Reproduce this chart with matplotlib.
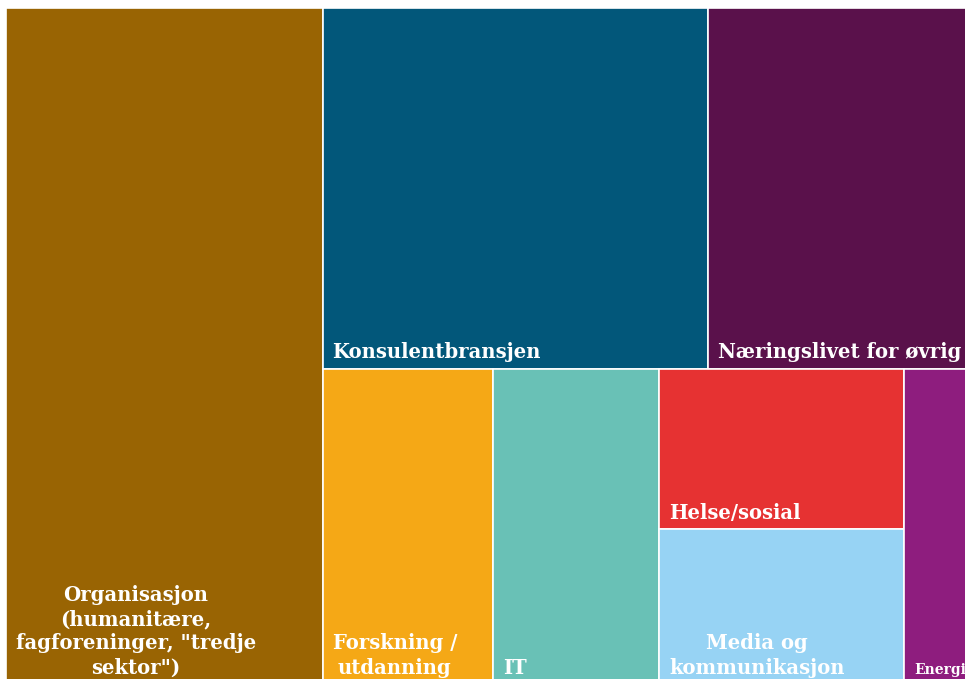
import matplotlib.pyplot as plt
from matplotlib.patches import Rectangle

# share of total (percent)
labels = ["Organisasjon\n(humanitære,\nfagforeninger, \"tredje\nsektor\")",
          "Konsulentbransjen", "Næringslivet for øvrig",
          "Forskning /\nutdanning", "IT", "Helse/sosial",
          "Media og\nkommunikasjon", "Energi"]
values = [32.7, 21.2, 14.7, 8.2, 8.0, 6.0, 5.8, 3.4]
colors = ["#996403", "#02577A", "#5A114B", "#F5A816", "#69C1B6",
          "#E63232", "#97D3F4", "#8E1D7E"]

org, kons, naer, forsk, it, helse, media, energi = values
total = sum(values)

# simple slice-and-dice layout in a unit square (y = 0 at top)
rects = []
org_w = org / total
rects.append((0, 0, org_w, 1))
rest_w = 1 - org_w
top_sum = kons + naer
bot_sum = forsk + it + helse + media + energi
top_h = top_sum / (top_sum + bot_sum)
x = org_w
for v in (kons, naer):
    w = rest_w * v / top_sum
    rects.append((x, 0, w, top_h))
    x += w
bot_h = 1 - top_h
x = org_w
for v in (forsk, it):
    w = rest_w * v / bot_sum
    rects.append((x, top_h, w, bot_h))
    x += w
hm_w = rest_w * (helse + media) / bot_sum
h1 = bot_h * helse / (helse + media)
rects.append((x, top_h, hm_w, h1))
rects.append((x, top_h + h1, hm_w, bot_h - h1))
x += hm_w
rects.append((x, top_h, rest_w * energi / bot_sum, bot_h))

fig = plt.figure(figsize=(9.65, 6.79), dpi=100)
# treemap runs a bit past the right and bottom edge of the picture
ax = fig.add_axes([6 / 965, -5 / 679, 969 / 965, 676 / 679])
ax.set_xlim(0, 1)
ax.set_ylim(1, 0)
ax.axis("off")

for (rx, ry, rw, rh), lab, c in zip(rects, labels, colors):
    ax.add_patch(Rectangle((rx, ry), rw, rh, facecolor=c,
                           edgecolor="white", linewidth=1.2))
    size = 10 if lab == "Energi" else 14.1
    ax.annotate(lab, xy=(rx, ry + rh), xytext=(7, 7.5),
                textcoords="offset points", ha="left", va="baseline",
                multialignment="center", color="white", fontsize=size,
                fontweight="bold", family="DejaVu Serif", linespacing=1.27,
                annotation_clip=False)

fig.savefig("out.png", dpi=100)
